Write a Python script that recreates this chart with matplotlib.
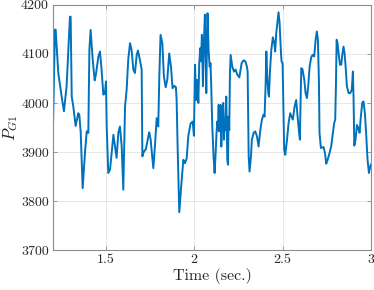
import matplotlib
matplotlib.use("Agg")
import matplotlib.pyplot as plt

time_s = [1.200, 1.211, 1.215, 1.230, 1.249, 1.262, 1.277, 1.296, 1.300, 1.306,
          1.315, 1.328, 1.343, 1.349, 1.357, 1.368, 1.381, 1.391, 1.400, 1.406,
          1.413, 1.425, 1.436, 1.443, 1.457, 1.466, 1.475, 1.485, 1.494, 1.500,
          1.504, 1.513, 1.523, 1.532, 1.542, 1.551, 1.560, 1.570, 1.579, 1.589,
          1.598, 1.608, 1.617, 1.626, 1.636, 1.645, 1.655, 1.664, 1.674, 1.681,
          1.692, 1.702, 1.706, 1.715, 1.726, 1.740, 1.745, 1.753, 1.768, 1.777,
          1.787, 1.796, 1.802, 1.809, 1.819, 1.828, 1.838, 1.847, 1.858, 1.868,
          1.877, 1.887, 1.896, 1.900, 1.906, 1.915, 1.926, 1.938, 1.947, 1.957,
          1.966, 1.979, 1.991, 1.998,
          2.004, 2.011, 2.017, 2.023, 2.028, 2.034, 2.038, 2.043, 2.049, 2.055,
          2.060, 2.064, 2.068, 2.072, 2.075, 2.081, 2.087, 2.092, 2.096, 2.102,
          2.109, 2.115, 2.121, 2.126, 2.130, 2.134, 2.138, 2.141, 2.145, 2.149,
          2.153, 2.157, 2.160, 2.164, 2.168, 2.172, 2.175, 2.181, 2.187, 2.191,
          2.194, 2.198, 2.202, 2.206, 2.215, 2.225, 2.234, 2.243, 2.255, 2.268,
          2.279, 2.289, 2.298, 2.302, 2.304, 2.308, 2.313, 2.321, 2.326, 2.336,
          2.345, 2.355, 2.364, 2.374, 2.383, 2.392, 2.398, 2.404, 2.408, 2.413,
          2.419, 2.423, 2.428, 2.436, 2.445, 2.453, 2.458, 2.464, 2.472, 2.477,
          2.483, 2.491, 2.494, 2.500, 2.504, 2.509, 2.515, 2.525, 2.534, 2.543,
          2.551, 2.558, 2.568, 2.577, 2.585, 2.592, 2.598, 2.602, 2.606, 2.613,
          2.623, 2.630, 2.638, 2.645, 2.653, 2.662, 2.670, 2.679, 2.687, 2.694,
          2.700, 2.706, 2.709, 2.717, 2.725, 2.732, 2.740, 2.747, 2.755, 2.766,
          2.775, 2.785, 2.792, 2.798, 2.802, 2.806, 2.811, 2.819, 2.825, 2.832,
          2.838, 2.845, 2.851, 2.857, 2.864, 2.874, 2.883, 2.892, 2.898, 2.902,
          2.906, 2.913, 2.921, 2.928, 2.936, 2.943, 2.951, 2.958, 2.966, 2.974,
          2.981, 2.989, 2.996, 3.000]

p_g1 = [3952, 4149, 4150, 4061, 4013, 3983, 4034, 4176, 4176, 4013,
        3993, 3953, 3979, 3976, 3939, 3826, 3898, 3942, 3939, 4108,
        4149, 4088, 4046, 4058, 4095, 4105, 4068, 4017, 4020, 4044,
        3952, 3857, 3864, 3898, 3935, 3911, 3888, 3939, 3952, 3911,
        3823, 3993, 4027, 4088, 4122, 4108, 4068, 4061, 4098, 4107,
        4088, 4068, 3891, 3901, 3906, 3932, 3940, 3925, 3867, 3911,
        3969, 3952, 4054, 4139, 4122, 4054, 4032, 4047, 4101, 4074,
        4030, 4035, 4032, 4006, 3905, 3777, 3830, 3884, 3877, 3887,
        3932, 3958, 3962, 3933,
        4078, 4006, 4047, 4000, 4081, 4112, 4085, 4139, 4034, 4129,
        4180, 4108, 4020, 4129, 4183, 4108, 4074, 4081, 4034, 3952,
        3891, 3857, 3898, 3939, 3962, 3945, 3996, 3942, 3972, 3996,
        3911, 3959, 3986, 4000, 3925, 3966, 3945, 4013, 3884, 3874,
        3972, 3945, 4061, 4098, 4074, 4064, 4068, 4058, 4052, 4081,
        4087, 4085, 4074, 4064, 4006, 3891, 3860, 3891, 3925, 3939,
        3942, 3932, 3911, 3945, 3966, 3976, 3972, 4040, 4105, 4054,
        4020, 4013, 4061, 4108, 4134, 4122, 4105, 4142, 4169, 4185,
        4163, 4101, 4085, 4081, 4006, 3905, 3894, 3925, 3959, 3979,
        3972, 3966, 3993, 4006, 3972, 3945, 3925, 4006, 4071, 4068,
        4047, 4020, 4010, 4034, 4074, 4093, 4098, 4095, 4129, 4146,
        4129, 4040, 3939, 3908, 3909, 3910, 3898, 3876, 3884, 3898,
        3911, 3939, 3959, 3966, 4034, 4129, 4122, 4095, 4078, 4078,
        4098, 4115, 4101, 4074, 4034, 4020, 4020, 4027, 4064, 4006,
        3913, 3925, 3955, 3949, 3939, 3972, 4000, 4003, 3979, 3932,
        3884, 3857, 3870, 3874]

x_ticks = [1.5, 2, 2.5, 3]
x_tick_labels = ["1.5", "2", "2.5", "3"]
y_ticks = [3700, 3800, 3900, 4000, 4100, 4200]
y_tick_labels = ["3700", "3800", "3900", "4000", "4100", "4200"]

plt.rcParams["font.family"] = "serif"
plt.rcParams["font.serif"] = ["cmr10", "DejaVu Serif"]
plt.rcParams["mathtext.fontset"] = "cm"
plt.rcParams["axes.formatter.use_mathtext"] = True

fig = plt.figure(figsize=(3.74, 2.90), dpi=100)
ax = fig.add_axes([0.1417, 0.138, 0.850, 0.845])

ax.plot(time_s, p_g1, color="#0072BD", lw=1.4, solid_joinstyle="round")

ax.set_xlim(1.2, 3)
ax.set_ylim(3700, 4200)
ax.set_xticks(x_ticks)
ax.set_xticklabels(x_tick_labels)
ax.set_yticks(y_ticks)
ax.set_yticklabels(y_tick_labels)

ax.grid(True, color="#E3E3E3", lw=0.6)
ax.set_axisbelow(True)
for s in ax.spines.values():
    s.set_color("#8C8C8C")
    s.set_linewidth(0.8)
ax.tick_params(direction="in", length=3, width=0.6, color="#8C8C8C",
               labelsize=10, labelcolor="#262626", top=True, right=True, pad=3)

ax.set_xlabel("Time (sec.)", fontsize=11.5, color="#262626", labelpad=1)
ax.set_ylabel(r"$P_{G1}$", fontsize=12, color="#262626")
ax.yaxis.set_label_coords(-0.105, 0.5)

fig.savefig("out.png", dpi=100)
